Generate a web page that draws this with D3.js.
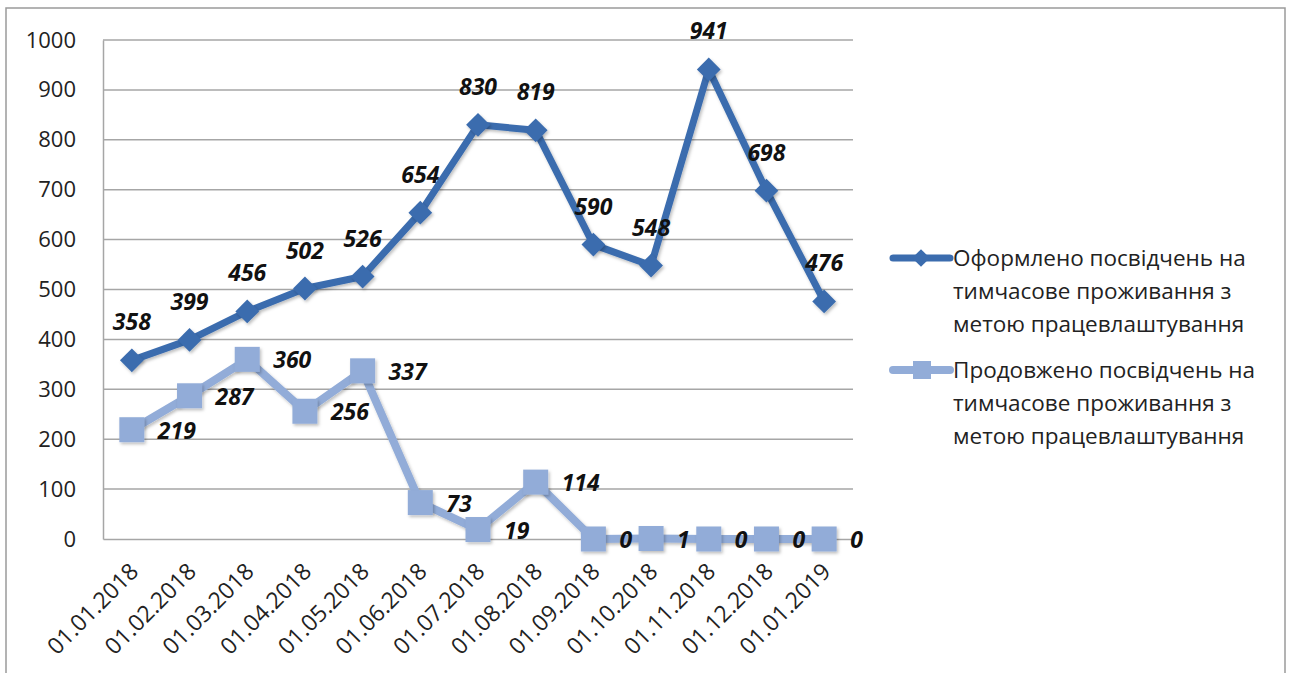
<!DOCTYPE html>
<html>
<head>
<meta charset="utf-8">
<script src="https://cdn.jsdelivr.net/npm/d3@7"></script>
<style>
  html, body { margin: 0; padding: 0; background: #fff; }
  svg { display: block; }
</style>
</head>
<body>
<svg id="chart" width="1289" height="673"></svg>
<script>
// Monthly dates (x categories)
const dates = ["01.01.2018","01.02.2018","01.03.2018","01.04.2018","01.05.2018","01.06.2018",
               "01.07.2018","01.08.2018","01.09.2018","01.10.2018","01.11.2018","01.12.2018","01.01.2019"];
// Issued certificates
const issued = [358, 399, 456, 502, 526, 654, 830, 819, 590, 548, 941, 698, 476];
// Extended certificates
const extended = [219, 287, 360, 256, 337, 73, 19, 114, 0, 1, 0, 0, 0];
const yTicks = [0, 100, 200, 300, 400, 500, 600, 700, 800, 900, 1000];
const seriesNames = [
  ["Оформлено посвідчень на", "тимчасове проживання з", "метою працевлаштування"],
  ["Продовжено посвідчень на", "тимчасове проживання з", "метою працевлаштування"]
];

const darkBlue = "#3b6cae";
const lightBlue = "#92acd8";
const font = "'Open Sans', 'Noto Sans', sans-serif";

const svg = d3.select("#chart");

// outer frame
svg.append("rect")
  .attr("x", 6).attr("y", 8).attr("width", 1279).attr("height", 700)
  .attr("fill", "none").attr("stroke", "#9a9a9a").attr("stroke-width", 1.5);

const plot = { left: 103, right: 853, top: 40, bottom: 539 };

const x = d3.scaleBand().domain(dates).range([plot.left, plot.right]).padding(0);
const y = d3.scaleLinear().domain([0, 1000]).range([plot.bottom, plot.top]);
const cx = d => x(d) + x.bandwidth() / 2;

// soft shadow for lines and markers
const defs = svg.append("defs");
const f = defs.append("filter").attr("id", "shadow").attr("x", "-20%").attr("y", "-20%")
  .attr("width", "140%").attr("height", "140%");
f.append("feDropShadow").attr("dx", 1.5).attr("dy", 2).attr("stdDeviation", 1.5)
  .attr("flood-color", "#000").attr("flood-opacity", 0.25);

// gridlines
const grid = svg.append("g");
grid.selectAll("line").data(yTicks.filter(t => t > 0)).join("line")
  .attr("x1", plot.left).attr("x2", plot.right)
  .attr("y1", d => y(d)).attr("y2", d => y(d))
  .attr("stroke", "#a6a6a6").attr("stroke-width", 1.5);

// y axis
const yAxis = svg.append("g").attr("transform", `translate(${plot.left},0)`)
  .call(d3.axisLeft(y).tickValues(yTicks).tickFormat(d3.format("d")).tickSize(0).tickPadding(27));
yAxis.select(".domain").attr("stroke", "#a6a6a6").attr("stroke-width", 1.5);
yAxis.selectAll("text").attr("font-family", font).attr("font-size", 22).attr("fill", "#222");

// x axis
const xAxis = svg.append("g").attr("transform", `translate(0,${plot.bottom})`)
  .call(d3.axisBottom(x).tickSize(0).tickPadding(0));
xAxis.select(".domain").attr("stroke", "#a6a6a6").attr("stroke-width", 1.5);
xAxis.selectAll("text")
  .attr("font-family", font).attr("font-size", 23).attr("fill", "#222")
  .attr("text-anchor", "end")
  .attr("dy", 0)
  .attr("transform", "translate(8,34) rotate(-45)");

const line = d3.line().x((d, i) => cx(dates[i])).y(d => y(d));

// extended series (light)
svg.append("path").datum(extended)
  .attr("d", line).attr("fill", "none")
  .attr("stroke", lightBlue).attr("stroke-width", 8).attr("stroke-linejoin", "round")
  .attr("filter", "url(#shadow)");
const sq = 25;
svg.append("g").selectAll("rect").data(extended).join("rect")
  .attr("x", (d, i) => cx(dates[i]) - sq / 2)
  .attr("y", d => y(d) - sq / 2)
  .attr("width", sq).attr("height", sq)
  .attr("fill", lightBlue).attr("filter", "url(#shadow)");

// issued series (dark)
svg.append("path").datum(issued)
  .attr("d", line).attr("fill", "none")
  .attr("stroke", darkBlue).attr("stroke-width", 7).attr("stroke-linejoin", "round")
  .attr("filter", "url(#shadow)");
const diamond = d3.symbol().type(d3.symbolDiamond2).size(360);
svg.append("g").selectAll("path").data(issued).join("path")
  .attr("d", diamond)
  .attr("transform", (d, i) => `translate(${cx(dates[i])},${y(d)})`)
  .attr("fill", darkBlue).attr("filter", "url(#shadow)");

// value labels
svg.append("g").selectAll("text").data(issued).join("text")
  .attr("x", (d, i) => cx(dates[i]))
  .attr("y", d => y(d) - 30)
  .attr("text-anchor", "middle")
  .attr("font-family", font).attr("font-size", 23)
  .attr("font-weight", "bold").attr("font-style", "italic").attr("fill", "#111")
  .text(d => d);

svg.append("g").selectAll("text").data(extended).join("text")
  .attr("x", (d, i) => cx(dates[i]) + 26)
  .attr("y", d => y(d) + 9)
  .attr("text-anchor", "start")
  .attr("font-family", font).attr("font-size", 23)
  .attr("font-weight", "bold").attr("font-style", "italic").attr("fill", "#111")
  .text(d => d);

// legend
const legend = svg.append("g");
const items = [
  { color: darkBlue, type: "diamond", y: 258, lines: seriesNames[0] },
  { color: lightBlue, type: "square", y: 370, lines: seriesNames[1] }
];
items.forEach(it => {
  const g = legend.append("g");
  g.append("line").attr("x1", 893).attr("x2", 950).attr("y1", it.y).attr("y2", it.y)
    .attr("stroke", it.color).attr("stroke-width", it.type === "diamond" ? 7 : 8)
    .attr("stroke-linecap", "round");
  if (it.type === "diamond") {
    g.append("path").attr("d", d3.symbol().type(d3.symbolDiamond2).size(200))
      .attr("transform", `translate(921,${it.y})`).attr("fill", it.color);
  } else {
    g.append("rect").attr("x", 913).attr("y", it.y - 9).attr("width", 18).attr("height", 18)
      .attr("fill", it.color);
  }
  g.selectAll("text").data(it.lines).join("text")
    .attr("x", 953).attr("y", (d, i) => it.y + 8 + i * 33)
    .attr("font-family", font).attr("font-size", 22.5).attr("fill", "#222")
    .text(d => d);
});
</script>
</body>
</html>
